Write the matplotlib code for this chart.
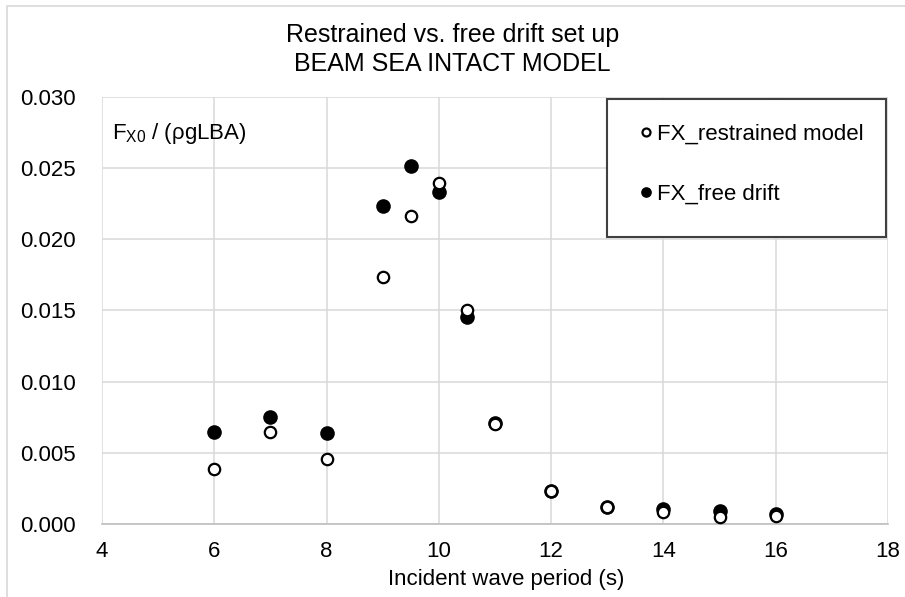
import matplotlib
matplotlib.use('Agg')
import matplotlib.pyplot as plt
from matplotlib.patches import Rectangle

plt.rcParams['font.family'] = ['Liberation Sans', 'DejaVu Sans']
plt.rcParams['mathtext.default'] = 'regular'

# wave periods (s) and non-dimensional drift force
period_restrained = [6, 7, 8, 9, 9.5, 10, 10.5, 11, 12, 13, 14, 15, 16]
fx_restrained = [0.00386, 0.00646, 0.00457, 0.01738, 0.02166, 0.02394, 0.01504,
                 0.00700, 0.00230, 0.00120, 0.00082, 0.00051, 0.00056]

period_free = [6, 7, 8, 9, 9.5, 10, 10.5, 11, 12, 13, 14, 15, 16]
fx_free = [0.00644, 0.00752, 0.00639, 0.02232, 0.02517, 0.02333, 0.01457,
           0.00707, 0.00234, 0.00122, 0.00103, 0.00093, 0.00070]

x_ticks = [4, 6, 8, 10, 12, 14, 16, 18]
y_ticks = [0.000, 0.005, 0.010, 0.015, 0.020, 0.025, 0.030]

fig = plt.figure(figsize=(9.05, 5.97), dpi=100)
ax = fig.add_axes([0.1127, 0.1223, 0.8685, 0.7152])

# outer chart border
fig.patches.append(Rectangle((0.0077, -0.02), 1.1, 1.01, transform=fig.transFigure,
                             fill=False, edgecolor='#d9d9d9', linewidth=1.2))

ax.plot(period_restrained, fx_restrained, linestyle='none', marker='o', markersize=8.2,
        markerfacecolor='white', markeredgecolor='black', markeredgewidth=1.6,
        label='FX_restrained model', zorder=3)
ax.plot(period_free, fx_free, linestyle='none', marker='o', markersize=9.5,
        markerfacecolor='black', markeredgecolor='black',
        label='FX_free drift', zorder=2)

ax.set_xlim(4, 18)
ax.set_ylim(0, 0.030)
ax.set_xticks(x_ticks)
ax.set_yticks(y_ticks)
ax.set_yticklabels(['%.3f' % v for v in y_ticks])
ax.tick_params(axis='both', length=0, labelsize=16)
ax.tick_params(axis='y', pad=19)
ax.tick_params(axis='x', pad=12)

ax.grid(True, color='#d9d9d9', linewidth=1.1)
ax.set_axisbelow(True)
for side in ['top', 'right', 'left']:
    ax.spines[side].set_visible(False)
ax.spines['bottom'].set_color('#bfbfbf')
ax.spines['bottom'].set_linewidth(1.2)

ax.set_xlabel('Incident wave period (s)', fontsize=16)
ax.xaxis.set_label_coords(0.514, -0.106)
fig.suptitle('Restrained vs. free drift set up\nBEAM SEA INTACT MODEL',
             fontsize=18, y=0.962, linespacing=1.3)

ax.text(0.013, 0.915, r'F$_{X0}$ / (ρgLBA)', transform=ax.transAxes,
        fontsize=16, va='center', ha='left')

# legend box
ax.add_patch(Rectangle((0.6425, 0.672), 0.355, 0.3233, transform=ax.transAxes,
                       facecolor='white', edgecolor='#404040', linewidth=1.5, zorder=4))
leg = ax.legend(loc='upper left', bbox_to_anchor=(0.66, 0.985), frameon=False,
                fontsize=16, handlelength=0.5, handletextpad=0.25,
                labelspacing=1.75, markerscale=0.7)
leg.set_zorder(5)

fig.savefig('out.png', dpi=100)
